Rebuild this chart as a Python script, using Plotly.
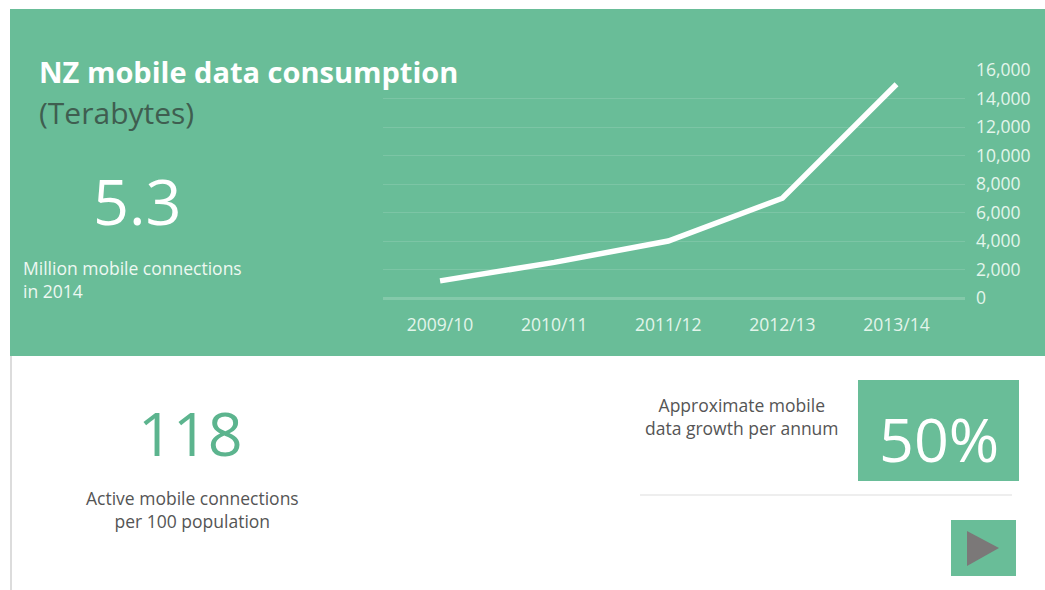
import plotly.graph_objects as go

# Mobile data consumption (terabytes) by financial year
years = ["2009/10", "2010/11", "2011/12", "2012/13", "2013/14"]
terabytes = [1200, 2500, 4000, 7000, 15000]
y_ticks = [0, 2000, 4000, 6000, 8000, 10000, 12000, 14000, 16000]
y_tick_labels = ["0", "2,000", "4,000", "6,000", "8,000", "10,000", "12,000", "14,000", "16,000"]

# Headline figures
connections_millions = "5.3"
connections_per_100 = "118"
growth_pct = "50%"

W, H = 1045, 590
GREEN = "#69bd98"
FONT = "'Open Sans', sans-serif"


def px(x):
    return x / W


def py(y):
    return 1 - y / H


fig = go.Figure()

fig.add_trace(go.Scatter(
    x=years, y=terabytes, mode="lines",
    line=dict(color="white", width=5.5),
    hoverinfo="skip", showlegend=False,
))

shapes = [
    # green header panel
    dict(type="rect", xref="paper", yref="paper", x0=px(10), x1=1.0, y0=py(356), y1=py(9),
         fillcolor=GREEN, line=dict(width=0), layer="below"),
    # left border of the lower panel
    dict(type="line", xref="paper", yref="paper", x0=px(11), x1=px(11), y0=0, y1=py(356),
         line=dict(color="#dcdcdc", width=2), layer="below"),
    # separator line
    dict(type="line", xref="paper", yref="paper", x0=px(640), x1=px(1012), y0=py(495), y1=py(495),
         line=dict(color="#eeeeee", width=2)),
    # growth box
    dict(type="rect", xref="paper", yref="paper", x0=px(858), x1=px(1019), y0=py(481), y1=py(380),
         fillcolor=GREEN, line=dict(width=0)),
    # play button
    dict(type="rect", xref="paper", yref="paper", x0=px(951), x1=px(1016), y0=py(576), y1=py(520),
         fillcolor=GREEN, line=dict(width=0)),
    dict(type="path", xref="paper", yref="paper",
         path=f"M {px(967)} {py(531)} L {px(999)} {py(548)} L {px(967)} {py(566)} Z",
         fillcolor="#7b7878", line=dict(width=0)),
]

annotations = [
    dict(text="<b>NZ mobile data consumption</b>", x=px(37), y=py(72), xanchor="left", yanchor="middle",
         font=dict(size=29, color="white", family=FONT)),
    dict(text="(Terabytes)", x=px(37), y=py(113), xanchor="left", yanchor="middle",
         font=dict(size=30, color="#3f5e50", family=FONT)),
    dict(text=connections_millions, x=px(137), y=py(200), xanchor="center", yanchor="middle",
         font=dict(size=63, color="white", family=FONT)),
    dict(text="Million mobile connections<br>in 2014", x=px(21), y=py(279), xanchor="left", yanchor="middle",
         align="left", font=dict(size=17.5, color="#eef8f2", family=FONT)),
    dict(text=connections_per_100, x=px(190), y=py(432), xanchor="center", yanchor="middle",
         font=dict(size=61, color="#5cb48e", family=FONT)),
    dict(text="Active mobile connections<br>per 100 population", x=px(192), y=py(509), xanchor="center",
         yanchor="middle", align="center", font=dict(size=17.5, color="#555555", family=FONT)),
    dict(text="Approximate mobile<br>data growth per annum", x=px(742), y=py(416), xanchor="center",
         yanchor="middle", align="center", font=dict(size=17.5, color="#555555", family=FONT)),
    dict(text=growth_pct, x=px(939), y=py(438), xanchor="center", yanchor="middle",
         font=dict(size=61, color="white", family=FONT)),
]
for a in annotations:
    a.update(xref="paper", yref="paper", showarrow=False)

fig.update_layout(
    width=W, height=H,
    margin=dict(l=0, r=0, t=0, b=0, autoexpand=False),
    paper_bgcolor="white",
    plot_bgcolor="rgba(0,0,0,0)",
    shapes=shapes,
    annotations=annotations,
    xaxis=dict(
        domain=[px(383), px(965)],
        range=[-0.5, 4.6],
        automargin=False,
        showgrid=False, zeroline=False, showline=False,
        ticks="", tickfont=dict(size=17.5, color="#e3f5eb", family=FONT),
        ticklabelstandoff=14,
        fixedrange=True,
    ),
    yaxis=dict(
        domain=[py(298), py(70)],
        range=[0, 16000],
        automargin=False,
        side="right",
        tickvals=y_ticks, ticktext=y_tick_labels,
        showgrid=True, gridcolor="rgba(255,255,255,0.13)", gridwidth=1,
        zeroline=True, zerolinecolor="rgba(255,255,255,0.18)", zerolinewidth=3,
        showline=False, ticks="",
        tickfont=dict(size=17.5, color="#e3f5eb", family=FONT),
        ticklabelstandoff=10,
        fixedrange=True,
    ),
)

fig.write_html("out.html")
